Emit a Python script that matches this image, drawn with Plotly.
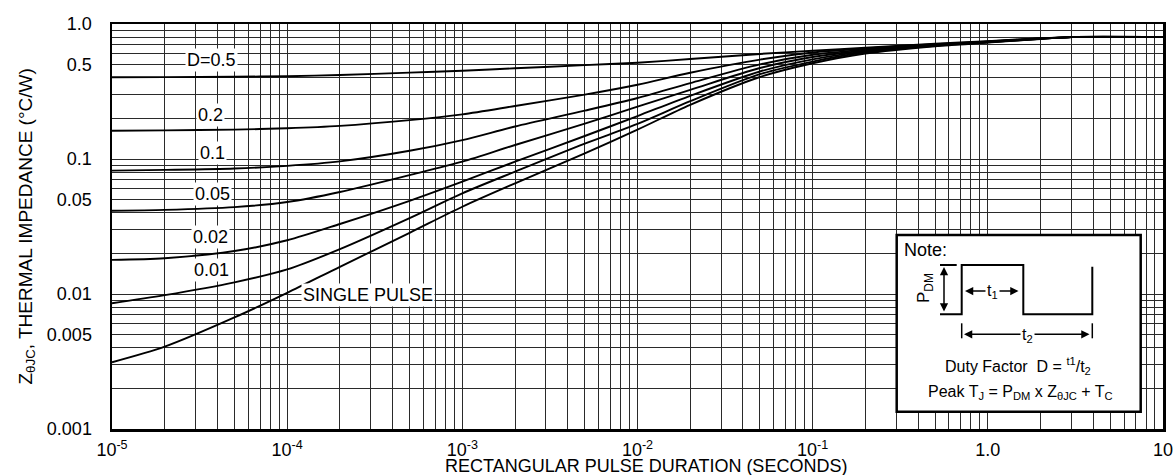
import plotly.graph_objects as go

# ---------------- data ----------------
pulse_t = [1e-5, 2e-5, 5e-5, 1e-4, 2e-4, 5e-4, 1e-3, 2e-3, 5e-3, 1e-2, 2e-2, 5e-2,
           1e-1, 2e-1, 5e-1, 1.0, 2.0, 3.0, 10.0]

z_d05 = [0.403, 0.404, 0.407, 0.410, 0.419, 0.436, 0.451, 0.470, 0.496, 0.517, 0.550, 0.600,
         0.633, 0.668, 0.715, 0.745, 0.785, 0.80, 0.80]
z_d02 = [0.162, 0.163, 0.165, 0.169, 0.176, 0.194, 0.214, 0.247, 0.300, 0.355, 0.435, 0.545,
         0.615, 0.658, 0.710, 0.742, 0.783, 0.80, 0.80]
z_d01 = [0.082, 0.083, 0.085, 0.089, 0.096, 0.115, 0.138, 0.174, 0.228, 0.283, 0.365, 0.502,
         0.592, 0.647, 0.705, 0.740, 0.782, 0.80, 0.80]
z_d005 = [0.0414, 0.042, 0.044, 0.048, 0.057, 0.076, 0.0955, 0.127, 0.183, 0.244, 0.325, 0.472,
          0.570, 0.637, 0.700, 0.737, 0.780, 0.80, 0.80]
z_d002 = [0.0179, 0.0184, 0.0208, 0.025, 0.033, 0.049, 0.068, 0.0955, 0.148, 0.208, 0.294, 0.445,
          0.547, 0.627, 0.695, 0.735, 0.778, 0.80, 0.80]
z_d001 = [0.00853, 0.0098, 0.0122, 0.0152, 0.0215, 0.0365, 0.0557, 0.0806, 0.130, 0.182, 0.268, 0.425,
          0.527, 0.617, 0.690, 0.732, 0.776, 0.80, 0.80]
z_single = [0.00312, 0.00407, 0.0067, 0.0102, 0.0159, 0.0284, 0.0443, 0.066, 0.110, 0.165, 0.252, 0.405,
            0.512, 0.605, 0.685, 0.728, 0.775, 0.80, 0.80]

series = [("D=0.5", z_d05), ("0.2", z_d02), ("0.1", z_d01), ("0.05", z_d005),
          ("0.02", z_d002), ("0.01", z_d001), ("SINGLE PULSE", z_single)]

x_decades = [1e-5, 1e-4, 1e-3, 1e-2, 1e-1, 1.0, 10.0]
x_ticktext = ["10<sup>-5</sup>", "10<sup>-4</sup>", "10<sup>-3</sup>", "10<sup>-2</sup>",
              "10<sup>-1</sup>", "1.0", "10"]
y_labeled = [0.001, 0.005, 0.01, 0.05, 0.1, 0.5, 1.0]
y_ticktext = ["0.001", "0.005", "0.01", "0.05", "0.1", "0.5", "1.0"]

# ---------------- layout geometry ----------------
W, H = 1176, 475
L, R, T, B = 112, 13, 24, 46
PW, PH = W - L - R, H - T - B
FONT = "Liberation Sans, Arial, Helvetica, sans-serif"


def px(xp):
    return (xp - L) / PW


def py(yp):
    return (H - B - yp) / PH


# grid values: all 1..9 multiples
x_grid, x_gtext = [], []
for k in range(-5, 1):
    for d in range(1, 10):
        v = d * 10.0 ** k
        x_grid.append(v)
        x_gtext.append(x_ticktext[x_decades.index(10.0 ** k)] if d == 1 else "")
x_grid.append(10.0)
x_gtext.append(x_ticktext[-1])

y_grid, y_gtext = [], []
for k in range(-3, 0):
    for d in range(1, 10):
        v = round(d * 10.0 ** k, 6)
        y_grid.append(v)
        lab = ""
        for yv, yt in zip(y_labeled, y_ticktext):
            if abs(yv - v) < 1e-9:
                lab = yt
        y_gtext.append(lab)
y_grid.append(1.0)
y_gtext.append("1.0")

fig = go.Figure()
for name, vals in series:
    fig.add_trace(go.Scatter(x=pulse_t, y=vals, mode="lines", name=name,
                             line=dict(color="black", width=1.9, shape="spline", smoothing=0.8),
                             showlegend=False, hoverinfo="skip"))

axis_common = dict(type="log", showgrid=True, gridcolor="#2a2a2a", gridwidth=1,
                   showline=True, linecolor="black", linewidth=2.5, mirror=True,
                   ticks="", zeroline=False, automargin=False,
                   tickfont=dict(size=18, color="black", family=FONT))
fig.update_xaxes(range=[-5, 1], tickmode="array", tickvals=x_grid, ticktext=x_gtext,
                 ticklabelstandoff=3, **axis_common)
fig.update_yaxes(range=[-3, 0], tickmode="array", tickvals=y_grid, ticktext=y_gtext,
                 ticklabelstandoff=14, **axis_common)

annotations = []
# curve labels
curve_labels = [("D=0.5", 211.5, 60), ("0.2", 210, 115), ("0.1", 212.5, 153.3),
                ("0.05", 212, 194), ("0.02", 210.5, 236.5), ("0.01", 211, 270),
                ("SINGLE PULSE", 368, 294.5)]
for txt, xp, yp in curve_labels:
    annotations.append(dict(text=txt, x=px(xp), y=py(yp), xref="paper", yref="paper",
                            showarrow=False, bgcolor="white", borderpad=1,
                            font=dict(size=18, color="black", family=FONT),
                            xanchor="center", yanchor="middle"))

# axis titles
annotations.append(dict(text="RECTANGULAR PULSE DURATION (SECONDS)", x=px(646), y=py(465.5),
                        xref="paper", yref="paper", showarrow=False,
                        font=dict(size=18, color="black", family=FONT),
                        xanchor="center", yanchor="middle"))
annotations.append(dict(text="Z<sub>θJC</sub>, THERMAL IMPEDANCE (°C/W)", x=px(26), y=py(226.5),
                        xref="paper", yref="paper", showarrow=False, textangle=-90,
                        font=dict(size=19, color="black", family=FONT),
                        xanchor="center", yanchor="middle"))

# note box contents
annotations.append(dict(text="Note:", x=px(902), y=py(249.5), xref="paper", yref="paper",
                        showarrow=False, font=dict(size=18, color="black", family=FONT),
                        xanchor="left", yanchor="middle"))
annotations.append(dict(text="P<sub>DM</sub>", x=px(925), y=py(288), xref="paper", yref="paper",
                        showarrow=False, textangle=-90,
                        font=dict(size=17, color="black", family=FONT),
                        xanchor="center", yanchor="middle"))
# arrows
arrow_style = dict(showarrow=True, arrowhead=2, arrowsize=1.1, arrowwidth=1.5,
                   arrowcolor="black", arrowside="end+start", text="",
                   xref="paper", yref="paper", axref="pixel", ayref="pixel")
annotations.append(dict(x=px(944), y=py(267), ax=0, ay=46, **arrow_style))
annotations.append(dict(x=px(965), y=py(291), ax=55, ay=0, **arrow_style))
annotations.append(dict(x=px(964), y=py(334.3), ax=127, ay=0, **arrow_style))
annotations.append(dict(text="t<sub>1</sub>", x=px(992), y=py(291), xref="paper", yref="paper",
                        showarrow=False, bgcolor="white", borderpad=1,
                        font=dict(size=16, color="black", family=FONT),
                        xanchor="center", yanchor="middle"))
annotations.append(dict(text="t<sub>2</sub>", x=px(1027), y=py(335), xref="paper", yref="paper",
                        showarrow=False, bgcolor="white", borderpad=1,
                        font=dict(size=16, color="black", family=FONT),
                        xanchor="center", yanchor="middle"))
annotations.append(dict(text="Duty Factor  D = <sup>t1</sup>/t<sub>2</sub>", x=px(1018), y=py(366),
                        xref="paper", yref="paper", showarrow=False,
                        font=dict(size=16, color="black", family=FONT),
                        xanchor="center", yanchor="middle"))
annotations.append(dict(text="Peak T<sub>J</sub> = P<sub>DM</sub> x Z<sub>θJC</sub> + T<sub>C</sub>",
                        x=px(1020), y=py(392), xref="paper", yref="paper", showarrow=False,
                        font=dict(size=16, color="black", family=FONT),
                        xanchor="center", yanchor="middle"))

shapes = []
shapes.append(dict(type="rect", xref="paper", yref="paper", x0=px(896.7), x1=px(1140.7),
                   y0=py(411.7), y1=py(235), fillcolor="white",
                   line=dict(color="black", width=2.5), layer="above"))


def path(points):
    return "M " + " L ".join(f"{px(a):.5f},{py(b):.5f}" for a, b in points)


wave = [(940, 314.3), (961.7, 314.3), (961.7, 265), (1023.3, 265), (1023.3, 314.3),
        (1092.3, 314.3), (1092.3, 266.7)]
shapes.append(dict(type="path", xref="paper", yref="paper", path=path(wave),
                   line=dict(color="black", width=2), layer="above"))
shapes.append(dict(type="path", xref="paper", yref="paper", path=path([(940, 265), (956.7, 265)]),
                   line=dict(color="black", width=2), layer="above"))
for xv in (961.7, 1092.3):
    shapes.append(dict(type="path", xref="paper", yref="paper",
                       path=path([(xv, 323.3), (xv, 338.3)]),
                       line=dict(color="black", width=1.5), layer="above"))

fig.update_layout(width=W, height=H, margin=dict(l=L, r=R, t=T, b=B, autoexpand=False),
                  paper_bgcolor="white", plot_bgcolor="white",
                  font=dict(family=FONT, size=18, color="black"),
                  annotations=annotations, shapes=shapes, showlegend=False)

fig.write_html("out.html", config={"displayModeBar": False, "staticPlot": True},
               post_script="document.body.style.margin='0';document.body.style.padding='0';"
                           "document.body.style.overflow='hidden';")
